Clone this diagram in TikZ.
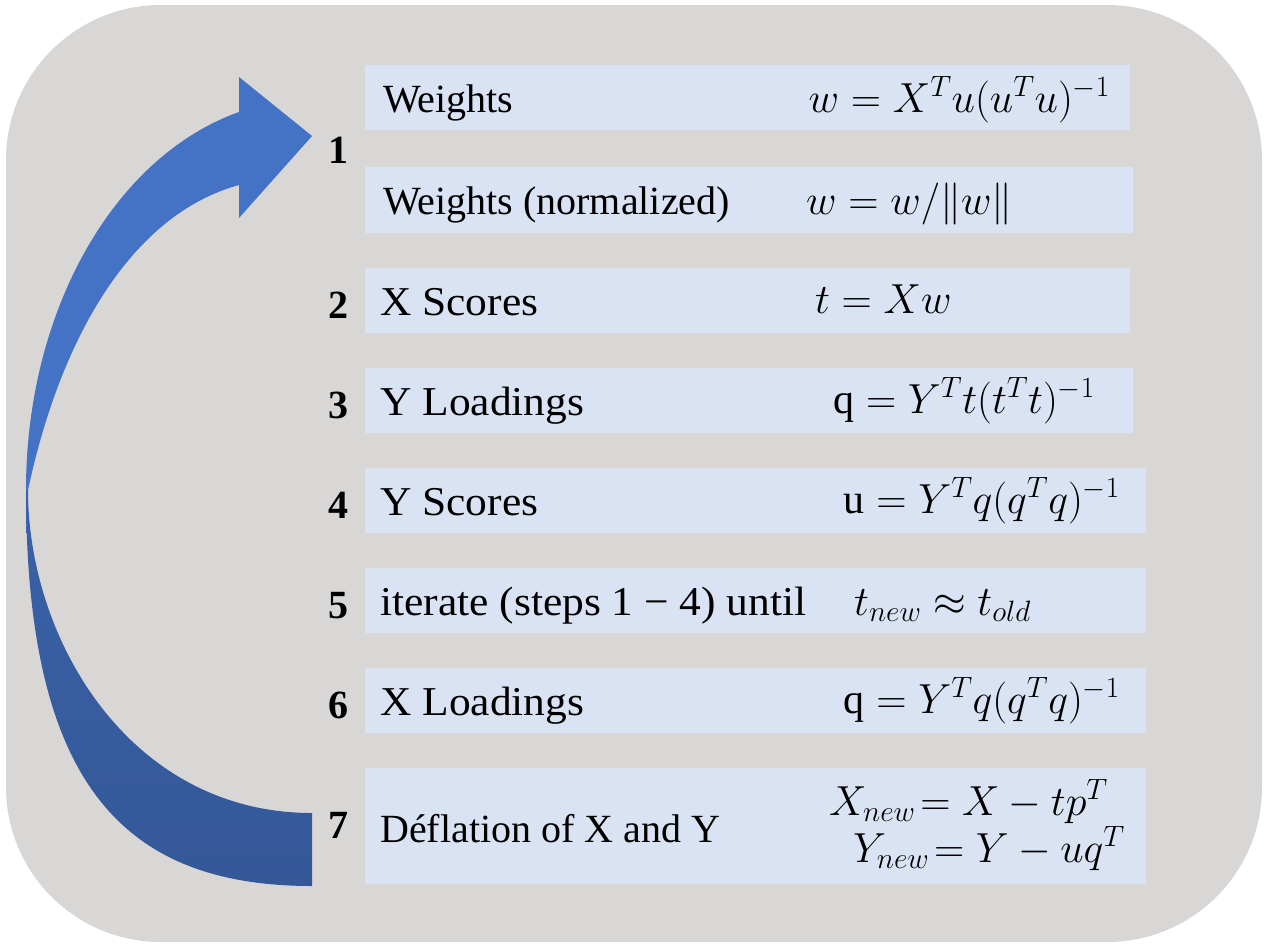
\RequirePackage{fix-cm}
\documentclass[tikz,border=0pt]{standalone}
\usepackage{amsmath}
\usepackage{fontspec}
\IfFontExistsTF{LiberationSerif-Regular.ttf}
  {\setmainfont{LiberationSerif-Regular.ttf}[BoldFont=LiberationSerif-Bold.ttf,ItalicFont=LiberationSerif-Italic.ttf,BoldItalicFont=LiberationSerif-BoldItalic.ttf]
   \newfontfamily\widefont{LiberationSerif-Regular.ttf}[FakeStretch=1.06]}
  {\setmainfont{Liberation Serif}
   \newfontfamily\widefont{Liberation Serif}[FakeStretch=1.06]}
\definecolor{bggrey}{RGB}{217,214,214}
\definecolor{boxblue}{RGB}{218,227,243}
\definecolor{arrowtop}{RGB}{68,114,196}
\definecolor{arrowmid}{RGB}{58,97,168}
\definecolor{arrowbot}{RGB}{52,88,152}
\tikzset{
  stepbox/.style={fill=boxblue, draw=none, inner sep=0pt, outer sep=0pt, anchor=north west},
  lbl/.style={anchor=base west, inner sep=0pt, font=\fontsize{40}{44}\selectfont},
  lblc/.style={anchor=base west, inner sep=0pt, font=\widefont\fontsize{41}{45}\selectfont},
  num/.style={anchor=base, inner sep=0pt, font=\fontsize{40}{44}\selectfont\bfseries},
  eqr/.style={anchor=base east, inner sep=0pt, font=\fontsize{42}{46}\selectfont},
  eql/.style={anchor=base west, inner sep=0pt, font=\fontsize{42}{46}\selectfont}
}
\begin{document}
\begin{tikzpicture}[x=1pt,y=-1pt]
\useasboundingbox (0,0) rectangle (1266,943);
\fill[white] (0,0) rectangle (1266,943);
\fill[bggrey, rounded corners=155pt] (6,5) rectangle (1262,942);

% step boxes
\node[stepbox, minimum width=765pt, minimum height=65pt] (b1) at (365,65) {};
\node[stepbox, minimum width=768pt, minimum height=66pt] (b1n) at (365,167) {};
\node[stepbox, minimum width=765pt, minimum height=65pt] (b2) at (365,268) {};
\node[stepbox, minimum width=768pt, minimum height=65pt] (b3) at (365,368) {};
\node[stepbox, minimum width=781pt, minimum height=65pt] (b4) at (365,468) {};
\node[stepbox, minimum width=781pt, minimum height=65pt] (b5) at (365,568) {};
\node[stepbox, minimum width=781pt, minimum height=65pt] (b6) at (365,668) {};
\node[stepbox, minimum width=781pt, minimum height=116pt] (b7) at (365,768) {};

% curved arrow: upper band
\fill[arrowtop] (26,490) .. controls (26,312) and (113,157) .. (239,112)
  -- (239,77) -- (312,136) -- (239,218) -- (239,185)
  .. controls (130,215) and (60,340) .. (28,490) -- cycle;
% lower band
\shade[top color=arrowmid, bottom color=arrowbot]
  (26,490) .. controls (26,780) and (120,886) .. (312,886)
  -- (312,813) .. controls (130,813) and (28,640) .. (28,490) -- cycle;

% numbers
\node[num] (n1) at (338,163) {1};
\node[num] (n2) at (338,318) {2};
\node[num] (n3) at (338,418) {3};
\node[num] (n4) at (338,518) {4};
\node[num] (n5) at (338,618) {5};
\node[num] (n6) at (338,718) {6};
\node[num] (n7) at (338,838) {7};

% labels
\node[lbl] (t1) at (383,112) {Weights};
\node[eqr] (e1) at (1110,112) {$w = X^{T}u(u^{T}u)^{-1}$};
\node[lbl] (t1n) at (383,214) {Weights (normalized)};
\node[eql] (e1n) at (806,214) {$w = w/\|w\|$};
\node[lblc] (t2) at (380,315) {X Scores};
\node[eql] (e2) at (815,313) {$t = Xw$};
\node[lblc] (t3) at (380,415) {Y Loadings};
\node[eqr] (e3) at (1095,413) {$\text{q} = Y^{T}t(t^{T}t)^{-1}$};
\node[lblc] (t4) at (380,515) {Y Scores};
\node[eqr] (e4) at (1120,513) {$\text{u} = Y^{T}q(q^{T}q)^{-1}$};
\node[lblc] (t5) at (380,615) {iterate (steps 1 − 4) until};
\node[eql] (e5) at (854,615) {$t_{new} \approx t_{old}$};
\node[lblc] (t6) at (380,715) {X Loadings};
\node[eqr] (e6) at (1120,713) {$\text{q} = Y^{T}q(q^{T}q)^{-1}$};
\node[lbl] (t7) at (380,842) {Déflation of X and Y};
\node[eqr] (e7a) at (1108,815) {$X_{new}\!= X - tp^{T}$};
\node[eqr] (e7b) at (1125,862) {$Y_{new}\!= Y - uq^{T}$};
\end{tikzpicture}
\end{document}
